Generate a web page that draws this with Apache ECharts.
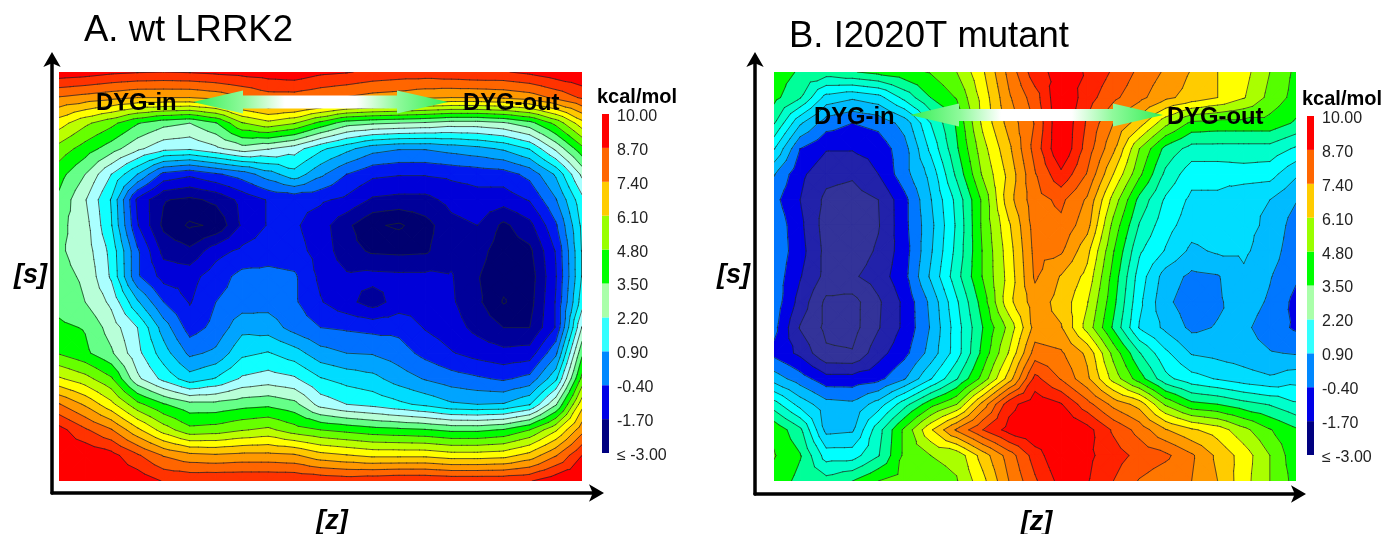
<!DOCTYPE html>
<html><head><meta charset="utf-8">
<style>html,body{margin:0;padding:0;background:#fff}#c{width:1382px;height:534px}</style>
<script src="https://cdn.jsdelivr.net/npm/echarts@6/dist/echarts.min.js"></script>
</head><body><div id="c"></div>
<script>
var legendLabels = ['≤ -3.00','-1.70','-0.40','0.90','2.20','3.50','4.80','6.10','7.40','8.70','10.00'];
var legendColors = ['#000080','#0000e6','#0088ff','#33ffff','#aaffaa','#00ff00','#99ff00','#ffcc00','#ff6600','#ff0000'];
var contourLevels = [-3,-2.35,-1.7,-1.05,-0.4,0.25,0.9,1.55,2.2,2.85,3.5,4.15,4.8,5.45,6.1,6.75,7.4,8.05,8.7,9.35];
var bandColorsA = ['#000070','#00009a','#0000d8','#0018f0','#0070ff','#00a4ff','#00dcff','#10ffff','#aaffff','#b8ffd8','#66ff88','#00ff00','#66ff00','#bbff00','#ffff00','#ffc800','#ff9900','#ff6600','#ff3300','#ff0000'];
var bandColorsB = ['#333399','#333399','#2222aa','#0000e6','#0077ff','#00bbff','#00ddff','#00ffff','#00ffcc','#00ff99','#00ff00','#55ff00','#aaff00','#ffff00','#ffcc00','#ff9900','#ff7700','#ff5500','#ff2200','#ff0000'];
var rowsA = [
[9.8,9.7,9.5,9.4,9.35,9.4,9.5,9.6,9.7,9.8,9.5,9.4,9.2,9.1,9.1,9.2,9.3,9.3,9.5,9.8,10],
[8.0,7.8,7.6,7.4,7.4,7.4,7.6,8.0,8.4,8.4,8.2,8.0,7.8,7.7,7.5,7.4,7.4,7.5,7.7,8.2,8.8],
[6.4,5.6,5.0,4.2,3.7,3.5,4.1,5.4,5.9,5.5,4.6,3.8,3.6,3.5,3.4,3.2,3.2,3.4,3.9,5.0,6.5],
[5.2,4.5,3.8,3.0,2.4,2.3,2.7,3.2,2.9,2.5,1.7,1.1,0.5,0.3,0.3,0.5,0.7,1.0,1.6,3.0,4.6],
[4.4,3.5,2.2,0.9,-0.6,-0.9,-0.5,-0.1,0.6,1.3,0.4,-0.4,-0.9,-1.0,-1.0,-0.9,-0.8,-0.7,-0.2,1.0,3.0],
[4.0,2.9,1.5,-1.2,-2.3,-2.5,-2.2,-1.5,-1.0,-0.9,-0.95,-1.2,-1.8,-1.9,-1.9,-1.5,-1.3,-1.4,-1.0,0.2,2.0],
[3.7,3.1,1.6,-1.0,-2.5,-3.1,-2.9,-1.6,-1.0,-0.95,-1.4,-2.2,-2.9,-3.1,-2.6,-1.9,-1.7,-2.5,-1.9,-0.5,1.7],
[3.6,3.2,2.0,-0.3,-1.9,-2.2,-1.3,-0.9,-0.7,-0.8,-1.3,-2.1,-2.45,-2.5,-2.45,-1.9,-2.1,-2.7,-2.5,-1.0,1.6],
[3.7,3.4,2.1,-0.3,-1.3,-1.3,-0.7,-0.2,-0.2,-0.3,-1.2,-1.6,-1.5,-1.55,-1.55,-1.65,-2.3,-2.8,-2.7,-1.1,1.6],
[3.9,3.5,2.7,1.0,-0.4,-1.1,-0.4,-0.1,0,-0.3,-1.0,-1.5,-2.0,-1.4,-1.3,-1.6,-2.2,-3.05,-2.6,-1.0,1.9],
[4.3,4.1,3.2,2.2,0.6,-0.7,-0.2,0.7,0.6,0,-0.4,-0.5,-0.6,-0.6,-1.1,-1.4,-1.9,-2.35,-2.35,-1.0,2.9],
[4.75,4.3,3.6,2.4,1.2,0.1,0.4,1.4,1.6,1.2,0.5,0.25,0.2,-0.1,-0.6,-1.0,-1.3,-1.5,-1.4,0.1,4.0],
[6.2,5.7,4.9,3.0,2.0,1.2,1.6,2.3,2.5,2.3,1.6,1.3,1.1,0.6,0.2,-0.1,-0.3,-0.5,-0.2,1.4,5.0],
[8.1,7.3,6.3,5.0,4.2,3.7,3.7,3.9,4.0,3.7,2.6,2.2,2.0,1.7,1.4,1.0,0.9,0.95,1.5,3.4,6.5],
[9.6,8.8,8.1,6.9,5.8,5.0,5.1,5.4,5.6,5.1,4.8,4.6,4.4,4.3,4.2,4.0,4.0,4.2,4.8,6.0,7.8],
[10,9.9,9.6,8.8,8.0,7.6,7.5,7.6,7.6,7.5,7.0,6.8,6.6,6.6,6.6,6.4,6.4,6.5,7.0,8.0,9.35],
[10,10,10,9.8,9.3,9.25,9.3,9.3,9.3,9.3,9.2,9.1,9.2,9.3,9.3,9.2,9.2,9.2,9.3,9.8,10]
];
var rowsB = [
[3.9,3.4,3.2,3.45,3.7,3.95,4.2,4.8,6.0,7.6,9.1,9.6,9.3,8.6,7.9,7.3,6.7,6.1,5.7,4.8,4.0],
[3.7,2.9,1.3,1.0,1.3,2.4,3.5,4.2,5.7,7.3,8.4,10,9.0,8.2,7.6,6.9,6.5,6.1,5.5,4.6,3.9],
[2.9,1.0,-0.1,-0.4,-0.2,0.5,2.2,3.6,5.6,7.0,8.1,10,8.6,7.4,6.4,5.0,4.0,3.9,3.9,3.9,3.4],
[1.6,-0.4,-1.0,-1.0,-0.8,0.0,1.7,3.4,5.2,6.6,8.3,10,8.4,6.9,4.8,3.3,2.6,2.6,2.6,2.6,2.1],
[0.3,-0.9,-1.5,-1.6,-1.05,0.0,1.1,3.0,4.9,6.3,8.0,9.2,8.0,6.1,4.3,2.7,1.8,1.8,1.9,1.8,1.0],
[-0.2,-1.05,-1.85,-2.0,-1.7,-0.6,0.85,2.4,4.3,6.5,7.8,8.2,7.3,5.2,3.3,2.1,1.4,1.4,1.0,0.9,0.3],
[0.1,-0.9,-2.0,-2.2,-1.75,-0.6,0.7,2.3,4.3,6.0,7.7,7.9,7.0,4.6,2.8,1.8,1.2,1.3,1.05,0.8,-0.1],
[0.1,-0.8,-1.9,-2.1,-1.6,-0.7,0.8,2.4,4.2,5.8,7.6,7.5,6.3,4.2,2.3,1.5,0.75,1.0,1.0,0.6,-0.2],
[0.0,-1.0,-1.9,-1.8,-1.4,-0.6,1.0,2.6,4.2,5.7,7.5,6.7,5.9,3.9,1.9,0.6,0.1,0.2,0.8,0.3,-0.3],
[0.0,-1.3,-2.5,-2.6,-1.8,-0.9,0.4,2.1,3.8,5.9,7.1,6.5,5.5,3.7,1.7,0.4,-0.1,0.15,0.6,0.15,-0.6],
[-0.2,-1.75,-2.5,-2.6,-1.75,-0.9,0.3,1.9,3.5,5.0,7.0,6.8,5.2,3.4,1.5,0.75,0.1,0.3,0.4,-0.1,-0.5],
[-0.6,-1.2,-2.25,-2.3,-1.3,-0.6,0.5,1.9,3.7,5.5,7.7,7.5,6.6,4.6,2.9,1.7,0.85,0.7,0.55,0.3,0.2],
[0.6,-0.1,-0.8,-0.8,-0.6,0.2,1.5,2.8,4.4,6.4,8.9,8.0,6.9,5.2,3.8,2.4,1.8,1.5,1.2,1.0,1.3],
[2.5,1.3,0.5,0.4,1.2,2.6,3.9,4.8,7.0,9.1,9.8,9.4,8.3,7.2,6.5,4.7,3.7,3.5,3.1,2.8,2.3],
[4.0,3.0,0.7,0.8,2.6,4.3,6.0,7.5,8.7,9.6,10,10,9.6,8.6,7.8,6.8,6.2,5.8,5.0,4.2,3.6],
[4.2,3.55,1.9,1.9,2.8,4.3,4.8,5.0,6.4,7.7,9.0,10,9.5,9.0,8.5,8.2,7.5,6.6,5.8,4.8,3.7],
[3.9,3.3,3.1,3.5,4.15,4.4,4.5,4.75,5.9,7.4,8.6,9.6,9.4,8.7,8.0,7.6,7.4,6.75,5.7,4.8,3.9]
];
var rowCount = rowsA.length, colCount = rowsA[0].length;

function cellsOf(rows){
  var out=[];
  for(var j=0;j<rows.length-1;j++)for(var i=0;i<rows[j].length-1;i++)
    out.push([i,j,rows[j][i],rows[j][i+1],rows[j+1][i+1],rows[j+1][i]]);
  return out;
}
function triangles(api){
  var i=api.value(0),j=api.value(1),a=api.value(2),b=api.value(3),c=api.value(4),d=api.value(5);
  var P=[[i,j,a],[i+1,j,b],[i+1,j+1,c],[i,j+1,d]];
  var m=[i+.5,j+.5,(a+b+c+d)/4];
  return [[P[0],P[1],m],[P[1],P[2],m],[P[2],P[3],m],[P[3],P[0],m]];
}
function clip(poly,level,keepAbove){
  var out=[];
  for(var k=0;k<poly.length;k++){
    var p=poly[k],q=poly[(k+1)%poly.length];
    var pin=keepAbove?p[2]>=level:p[2]<=level, qin=keepAbove?q[2]>=level:q[2]<=level;
    if(pin)out.push(p);
    if(pin!==qin){var t=(level-p[2])/(q[2]-p[2]);out.push([p[0]+t*(q[0]-p[0]),p[1]+t*(q[1]-p[1]),level]);}
  }
  return out;
}
function fillRenderer(colors){
  return function(params,api){
    var kids=[];
    triangles(api).forEach(function(tri){
      for(var b=0;b<colors.length;b++){
        var poly=tri;
        if(b>0)poly=clip(poly,contourLevels[b],true);
        if(poly.length&&b<colors.length-1)poly=clip(poly,contourLevels[b+1],false);
        if(poly.length<3)continue;
        kids.push({type:'polygon',shape:{points:poly.map(function(p){return api.coord([p[0],p[1]]);})},
          style:{fill:colors[b],stroke:colors[b],lineWidth:1.2,lineJoin:'round'},silent:true});
      }
    });
    return {type:'group',children:kids};
  };
}
function lineRenderer(params,api){
  var kids=[];
  triangles(api).forEach(function(tri){
    contourLevels.forEach(function(L){
      var pts=[];
      for(var k=0;k<3;k++){
        var p=tri[k],q=tri[(k+1)%3];
        if((p[2]<L)!==(q[2]<L)){var t=(L-p[2])/(q[2]-p[2]);pts.push(api.coord([p[0]+t*(q[0]-p[0]),p[1]+t*(q[1]-p[1])]));}
      }
      if(pts.length===2)kids.push({type:'line',shape:{x1:pts[0][0],y1:pts[0][1],x2:pts[1][0],y2:pts[1][1]},
        style:{stroke:'rgba(30,40,40,0.72)',lineWidth:1,lineCap:'round'},silent:true});
    });
  });
  return {type:'group',children:kids};
}
var legendBarLift=2.5;
function legendRenderer(params,api){
  var a=api.coord([0,api.value(0)]),b=api.coord([0,api.value(0)+1]);
  return {type:'rect',shape:{x:params.coordSys.x,y:b[1]-legendBarLift,width:params.coordSys.width,height:a[1]-b[1]},style:{fill:legendColors[api.value(0)]}};
}
function arrow(x1,x2,xb1,xb2,yc,shaft,head){
  return {type:'polygon',z:20,shape:{points:[[x1,yc],[xb1,yc-head],[xb1,yc-shaft],[xb2,yc-shaft],[xb2,yc-head],[x2,yc],[xb2,yc+head],[xb2,yc+shaft],[xb1,yc+shaft],[xb1,yc+head]]},
    style:{fill:{type:'linear',x:x1,y:0,x2:x2,y2:0,global:true,colorStops:[
      {offset:0,color:'#33ee55'},{offset:.2,color:'#90fa9c'},{offset:.36,color:'#ffffff'},{offset:.64,color:'#ffffff'},{offset:.8,color:'#90fa9c'},{offset:1,color:'#33ee55'}]}}};
}
var FONT='"Liberation Sans",Arial,sans-serif';
function panelText(text,x,y,size,weight,style){
  return {type:'text',z:30,x:x,y:y,style:{text:text,fill:'#000',font:(style||'normal')+' '+(weight||'normal')+' '+size+'px '+FONT,textVerticalAlign:'middle'}};
}
var grids=[
 {left:59,top:72,width:523,height:409},
 {left:52,top:58,width:546,height:435},
 {left:602,top:116.5,width:7,height:339},
 {left:774,top:72,width:522,height:409},
 {left:755,top:58,width:545,height:436},
 {left:1307,top:118.5,width:7,height:339}
].map(function(g){g.outerBoundsMode='none';return g;});
function plotX(g){return {gridIndex:g,type:'value',min:0,max:colCount-1,show:false};}
function plotY(g){return {gridIndex:g,type:'value',min:0,max:rowCount-1,inverse:true,show:false};}
var axisLine={show:true,symbol:['none','arrow'],symbolSize:[13,15],symbolOffset:[0,6],lineStyle:{color:'#000',width:3.5}};
var nameStyle={fontFamily:FONT,fontSize:27,fontWeight:'bold',fontStyle:'italic',color:'#000'};
function frameX(g,pad){return {gridIndex:g,type:'value',min:0,max:1,name:'[z]',nameLocation:'middle',nameGap:15,nameTextStyle:Object.assign({padding:[0,0,0,pad]},nameStyle),axisLine:axisLine,axisTick:{show:false},axisLabel:{show:false},splitLine:{show:false}};}
function frameY(g,pad){return {gridIndex:g,type:'value',min:0,max:1,name:'[s]',nameLocation:'middle',nameRotate:0,nameGap:5,nameTextStyle:Object.assign({padding:[pad,0,0,0]},nameStyle),axisLine:axisLine,axisTick:{show:false},axisLabel:{show:false},splitLine:{show:false}};}
function legendX(g){return {gridIndex:g,type:'value',min:0,max:1,show:false};}
function legendY(g){return {gridIndex:g,type:'category',boundaryGap:false,position:'right',data:legendLabels,axisLine:{show:false},axisTick:{show:false},splitLine:{show:false},
  axisLabel:{show:true,margin:8,fontFamily:FONT,fontSize:16,color:'#222',interval:0,showMinLabel:true,showMaxLabel:true}};}
var legendIdx=legendColors.map(function(c,i){return [i];});
function legendSeries(ax){return {type:'custom',xAxisIndex:ax,yAxisIndex:ax,coordinateSystem:'cartesian2d',clip:false,renderItem:legendRenderer,data:legendIdx,encode:{y:0},silent:true};}
function surface(ax,rows,colors){
  var cells=cellsOf(rows);
  return [
   {type:'custom',xAxisIndex:ax,yAxisIndex:ax,coordinateSystem:'cartesian2d',renderItem:fillRenderer(colors),data:cells,encode:{x:0,y:1},z:2,silent:true,clip:true},
   {type:'custom',xAxisIndex:ax,yAxisIndex:ax,coordinateSystem:'cartesian2d',renderItem:lineRenderer,data:cells,encode:{x:0,y:1},z:3,silent:true,clip:true}
  ];
}
var chart=echarts.init(document.getElementById('c'),null,{renderer:'canvas'});
chart.setOption({
  animation:false,backgroundColor:'#fff',
  grid:grids,
  xAxis:[plotX(0),frameX(1,14),legendX(2),plotX(3),frameX(4,18),legendX(5)],
  yAxis:[plotY(0),frameY(1,0),legendY(2),plotY(3),frameY(4,8),legendY(5)],
  series:[].concat(surface(0,rowsA,bandColorsA),[legendSeries(2)],surface(3,rowsB,bandColorsB),[legendSeries(5)]),
  graphic:[
    panelText('A. wt LRRK2',84,31,36.5),
    panelText('B. I2020T mutant',789,37,36.5),
    arrow(193,448,243,397,102,6.5,11.5),
    arrow(910,1163,959,1113,115,6,11.5),
    panelText('DYG-in',96,103,23.8,'bold'),
    panelText('DYG-out',463,103,23.8,'bold'),
    panelText('DYG-in',814,117,23.8,'bold'),
    panelText('DYG-out',1167,117,23.8,'bold'),
    panelText('kcal/mol',597,97,20,'bold'),
    panelText('kcal/mol',1302,99,20,'bold')
  ]
});
</script></body></html>
